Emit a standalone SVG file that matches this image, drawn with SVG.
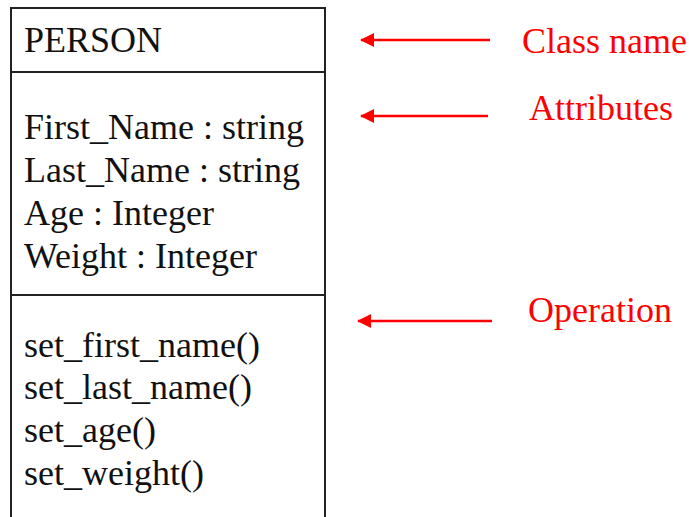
<svg xmlns="http://www.w3.org/2000/svg" width="689" height="517" viewBox="0 0 689 517">
  <style>
    .box { fill: #fff; stroke: #222; stroke-width: 2; }
    .sep { stroke: #222; stroke-width: 2; }
    .txt { font-family: "Liberation Serif", "Times New Roman", serif; font-size: 36px; fill: #111; }
    .lbl { font-family: "Liberation Serif", "Times New Roman", serif; font-size: 36px; fill: #ff0000; }
    .arrow { stroke: #ff0000; stroke-width: 2.5; fill: none; marker-start: url(#head); }
  </style>
  <defs>
    <marker id="head" viewBox="0 0 14 14" refX="1" refY="7" markerWidth="14" markerHeight="14" markerUnits="userSpaceOnUse" orient="auto">
      <path d="M0,7 L14,0 L14,14 Z" fill="#ff0000"/>
    </marker>
  </defs>
  <rect width="689" height="517" fill="#fff"/>

  <!-- UML class box -->
  <g id="person-class">
    <rect class="box" x="11" y="8" width="314" height="530"/>
    <line class="sep" x1="11" y1="72" x2="325" y2="72"/>
    <line class="sep" x1="11" y1="295" x2="325" y2="295"/>
    <text class="txt" x="24" y="52">PERSON</text>
    <text class="txt" x="24" y="139">First_Name : string</text>
    <text class="txt" x="24" y="182">Last_Name : string</text>
    <text class="txt" x="24" y="225">Age : Integer</text>
    <text class="txt" x="24" y="268">Weight : Integer</text>
    <text class="txt" x="24" y="357">set_first_name()</text>
    <text class="txt" x="24" y="399">set_last_name()</text>
    <text class="txt" x="24" y="442">set_age()</text>
    <text class="txt" x="24" y="485">set_weight()</text>
  </g>

  <!-- Annotation labels -->
  <g id="label-class-name"><text class="lbl" x="522" y="53">Class name</text></g>
  <g id="label-attributes"><text class="lbl" x="529" y="120">Attributes</text></g>
  <g id="label-operation"><text class="lbl" x="528" y="322">Operation</text></g>

  <!-- Pointer arrows -->
  <g id="connectors">
    <line class="arrow" x1="361" y1="40" x2="490" y2="40"/>
    <line class="arrow" x1="361" y1="116" x2="488" y2="116"/>
    <line class="arrow" x1="358" y1="321" x2="492" y2="321"/>
  </g>
</svg>
